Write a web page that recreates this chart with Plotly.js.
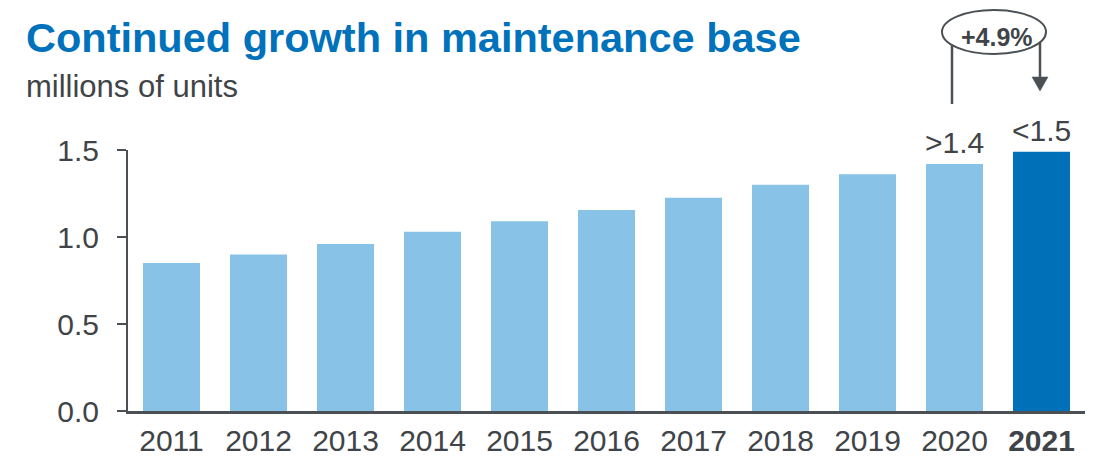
<!DOCTYPE html>
<html>
<head>
<meta charset="utf-8">
<script src="https://cdn.plot.ly/plotly-3.0.1.min.js"></script>
<style>
  html, body { margin: 0; padding: 0; background: #ffffff; }
  #chart { width: 1094px; height: 457px; }
</style>
</head>
<body>
<div id="chart"></div>
<script>
// ---- data ----
const years = ['2011', '2012', '2013', '2014', '2015', '2016', '2017', '2018', '2019', '2020', '2021'];
const units = [0.85, 0.90, 0.96, 1.03, 1.09, 1.155, 1.225, 1.30, 1.36, 1.42, 1.49];
const barLabels = ['', '', '', '', '', '', '', '', '', '>1.4', '<1.5'];
const highlightYear = '2021';
const yTicks = [0, 0.5, 1.0, 1.5];
const titleText = 'Continued growth in maintenance base';
const subtitleText = 'millions of units';
const growthLabel = '+4.9%';

// ---- style ----
const FONT = 'Arial, "Liberation Sans", sans-serif';
const LIGHT = '#88c2e6';
const DARK = '#0070b8';
const TITLE_BLUE = '#0071bb';
const TEXT = '#3f4448';
const AXIS = '#4b5055';

const W = 1094, H = 457;
const M = { l: 128, r: 9, t: 150, b: 46 };
const PW = W - M.l - M.r, PH = H - M.t - M.b;
const px = x => (x - M.l) / PW;          // pixel -> paper x
const py = y => (H - M.b - y) / PH;      // pixel -> paper y

const idx = years.map((_, i) => i);

const trace = {
  type: 'bar',
  x: idx,
  y: units,
  marker: { color: years.map(y => y === highlightYear ? DARK : LIGHT), line: { width: 0 } },
  hoverinfo: 'y'
};

const annotations = [
  { xref: 'paper', yref: 'paper', x: px(24), y: py(12), xanchor: 'left', yanchor: 'top',
    text: '<b>' + titleText + '</b>', showarrow: false,
    font: { family: FONT, size: 41.5, color: TITLE_BLUE } },
  { xref: 'paper', yref: 'paper', x: px(24), y: py(67), xanchor: 'left', yanchor: 'top',
    text: subtitleText, showarrow: false,
    font: { family: FONT, size: 31, color: TEXT } },
  { xref: 'paper', yref: 'paper', x: px(996.5), y: py(36.5), xanchor: 'center', yanchor: 'middle',
    text: '<b>' + growthLabel + '</b>', showarrow: false,
    font: { family: FONT, size: 25, color: TEXT } }
];
idx.forEach(i => {
  if (barLabels[i]) {
    annotations.push({
      x: i, y: units[i], xref: 'x', yref: 'y', xanchor: 'center', yanchor: 'bottom', yshift: 3,
      text: barLabels[i], showarrow: false,
      font: { family: FONT, size: 30, color: TEXT }
    });
  }
});

const shapes = [
  { type: 'line', xref: 'paper', yref: 'paper', x0: px(952), x1: px(952), y0: py(40), y1: py(104),
    line: { color: AXIS, width: 2.5 }, layer: 'above' },
  { type: 'line', xref: 'paper', yref: 'paper', x0: px(1040), x1: px(1040), y0: py(40), y1: py(80),
    line: { color: AXIS, width: 2.5 }, layer: 'above' },
  { type: 'path', xref: 'paper', yref: 'paper',
    path: 'M ' + px(1032) + ' ' + py(77) + ' L ' + px(1048) + ' ' + py(77) + ' L ' + px(1040) + ' ' + py(91) + ' Z',
    fillcolor: AXIS, line: { color: AXIS, width: 0.5 }, layer: 'above' },
  { type: 'circle', xref: 'paper', yref: 'paper', x0: px(942), x1: px(1046), y0: py(54), y1: py(10),
    fillcolor: '#ffffff', line: { color: AXIS, width: 2 }, layer: 'above' }
];

const layout = {
  width: W, height: H,
  margin: M,
  paper_bgcolor: '#ffffff', plot_bgcolor: '#ffffff',
  showlegend: false,
  bargap: 0.345,
  font: { family: FONT, color: TEXT },
  xaxis: {
    type: 'linear',
    range: [-0.5, years.length - 0.5],
    tickmode: 'array',
    tickvals: idx,
    ticktext: years.map(y => y === highlightYear ? '<b>' + y + '</b>' : y),
    ticks: '', showgrid: false, zeroline: false,
    showline: true, linecolor: AXIS, linewidth: 2.5,
    tickfont: { family: FONT, size: 30, color: TEXT },
    ticklabelstandoff: 1,
    fixedrange: true
  },
  yaxis: {
    range: [0, 1.5],
    tickmode: 'array',
    tickvals: yTicks,
    tickformat: '.1f',
    ticks: 'outside', ticklen: 9, tickwidth: 2, tickcolor: AXIS,
    showgrid: false, zeroline: false,
    showline: true, linecolor: AXIS, linewidth: 2,
    tickfont: { family: FONT, size: 30, color: TEXT },
    ticklabelstandoff: 12,
    fixedrange: true
  },
  annotations: annotations,
  shapes: shapes
};

Plotly.newPlot('chart', [trace], layout, { displayModeBar: false, staticPlot: true });
</script>
</body>
</html>
